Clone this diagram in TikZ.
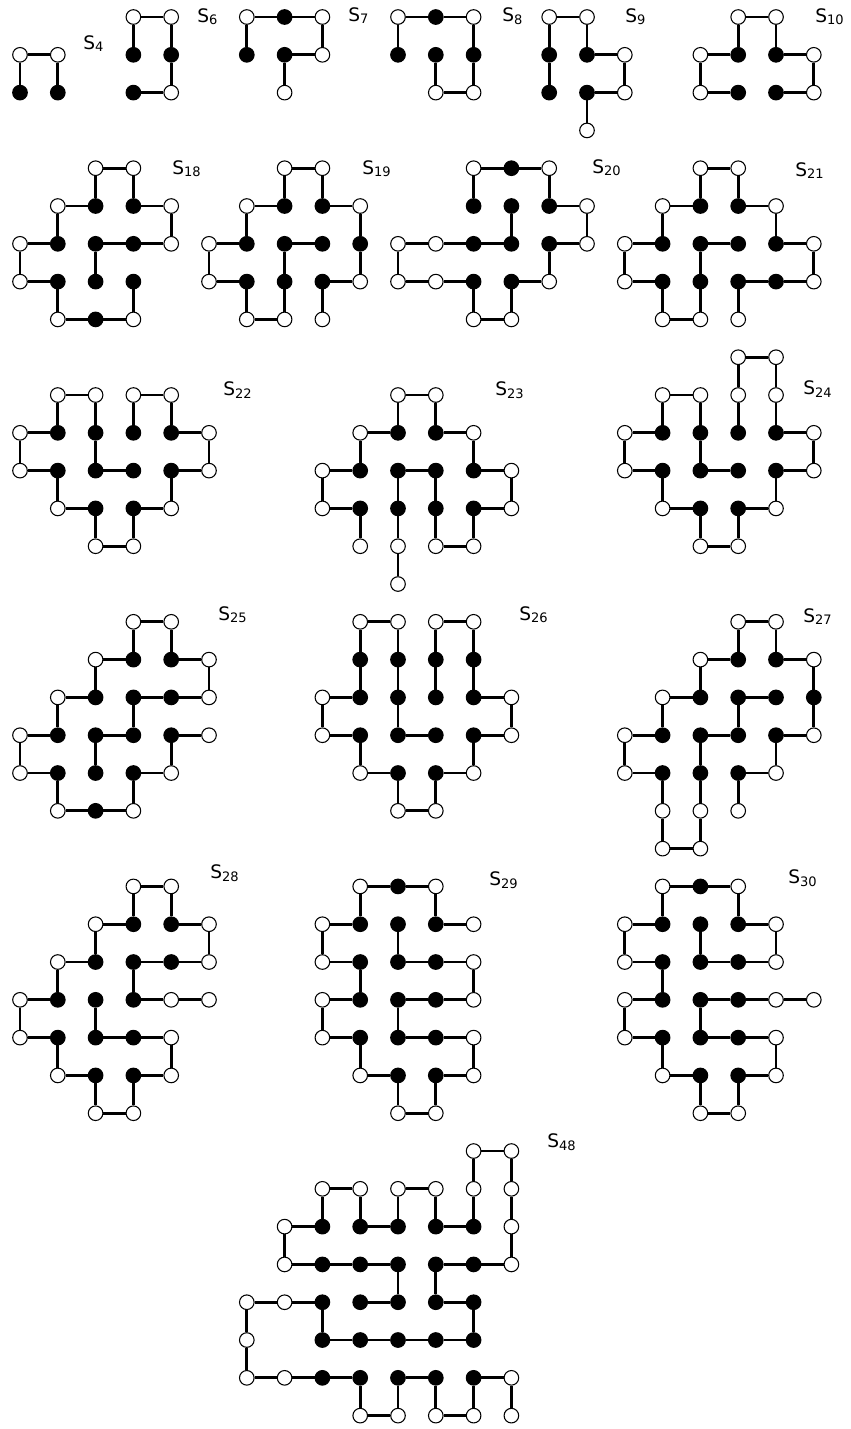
\documentclass[tikz,border=0pt]{standalone}
\usepackage{fontspec}
\setmainfont{DejaVu Sans}
\tikzset{
  wv/.style={circle,draw,fill=white,line width=0.6pt,inner sep=0pt,minimum size=0.29cm},
  bv/.style={wv,fill=black},
  link/.style={line width=1.6pt},
  lab/.style={anchor=base west,inner sep=0pt,font=\fontsize{10.5}{12}\selectfont}
}
\begin{document}
\begin{tikzpicture}[x=0.75cm,y=-0.75cm]
  \useasboundingbox (-0.529,-0.45) rectangle (21.984,37.354);
  % S_4
  \foreach \i/\j in {0/1,1/1} \node[wv] (v\i-\j) at (\i,\j) {};
  \foreach \i/\j in {0/2,1/2} \node[bv] (v\i-\j) at (\i,\j) {};
  \draw[link] (v0-2)--(v0-1)--(v1-1)--(v1-2);
  \node[lab] (s4) at (1.667,0.847) {S\textsubscript{4}};
  % S_6
  \foreach \i/\j in {3/0,4/0,4/2} \node[wv] (v\i-\j) at (\i,\j) {};
  \foreach \i/\j in {3/1,4/1,3/2} \node[bv] (v\i-\j) at (\i,\j) {};
  \draw[link] (v3-1)--(v3-0)--(v4-0)--(v4-1)--(v4-2)--(v3-2);
  \node[lab] (s6) at (4.683,0.132) {S\textsubscript{6}};
  % S_7
  \foreach \i/\j in {6/0,8/0,8/1,7/2} \node[wv] (v\i-\j) at (\i,\j) {};
  \foreach \i/\j in {7/0,6/1,7/1} \node[bv] (v\i-\j) at (\i,\j) {};
  \draw[link] (v6-1)--(v6-0)--(v7-0)--(v8-0)--(v8-1)--(v7-1)--(v7-2);
  \node[lab] (s7) at (8.677,0.106) {S\textsubscript{7}};
  % S_8
  \foreach \i/\j in {10/0,12/0,11/2,12/2} \node[wv] (v\i-\j) at (\i,\j) {};
  \foreach \i/\j in {11/0,10/1,11/1,12/1} \node[bv] (v\i-\j) at (\i,\j) {};
  \draw[link] (v10-1)--(v10-0)--(v11-0)--(v12-0)--(v12-1)--(v12-2)--(v11-2)--(v11-1);
  \node[lab] (s8) at (12.751,0.106) {S\textsubscript{8}};
  % S_9
  \foreach \i/\j in {14/0,15/0,16/1,16/2,15/3} \node[wv] (v\i-\j) at (\i,\j) {};
  \foreach \i/\j in {14/1,15/1,14/2,15/2} \node[bv] (v\i-\j) at (\i,\j) {};
  \draw[link] (v14-2)--(v14-1)--(v14-0)--(v15-0)--(v15-1)--(v16-1)--(v16-2)--(v15-2)--(v15-3);
  \node[lab] (s9) at (16.005,0.132) {S\textsubscript{9}};
  % S_10
  \foreach \i/\j in {19/0,20/0,18/1,21/1,18/2,21/2} \node[wv] (v\i-\j) at (\i,\j) {};
  \foreach \i/\j in {19/1,20/1,19/2,20/2} \node[bv] (v\i-\j) at (\i,\j) {};
  \draw[link] (v19-2)--(v18-2)--(v18-1)--(v19-1)--(v19-0)--(v20-0)--(v20-1)--(v21-1)--(v21-2)--(v20-2);
  \node[lab] (s10) at (21.032,0.132) {S\textsubscript{10}};
  % S_18
  \foreach \i/\j in {2/4,3/4,1/5,4/5,0/6,4/6,0/7,1/8,3/8} \node[wv] (v\i-\j) at (\i,\j) {};
  \foreach \i/\j in {2/5,3/5,1/6,2/6,3/6,1/7,2/7,3/7,2/8} \node[bv] (v\i-\j) at (\i,\j) {};
  \draw[link] (v2-7)--(v2-6)--(v3-6)--(v4-6)--(v4-5)--(v3-5)--(v3-4)--(v2-4)--(v2-5)--(v1-5)--(v1-6)
    --(v0-6)--(v0-7)--(v1-7)--(v1-8)--(v2-8)--(v3-8)--(v3-7);
  \node[lab] (s18) at (4.021,4.153) {S\textsubscript{18}};
  % S_19
  \foreach \i/\j in {7/4,8/4,6/5,9/5,5/6,5/7,9/7,6/8,7/8,8/8} \node[wv] (v\i-\j) at (\i,\j) {};
  \foreach \i/\j in {7/5,8/5,6/6,7/6,8/6,9/6,6/7,7/7,8/7} \node[bv] (v\i-\j) at (\i,\j) {};
  \draw[link] (v8-6)--(v7-6)--(v7-7)--(v7-8)--(v6-8)--(v6-7)--(v5-7)--(v5-6)--(v6-6)--(v6-5)--(v7-5)
    --(v7-4)--(v8-4)--(v8-5)--(v9-5)--(v9-6)--(v9-7)--(v8-7)--(v8-8);
  \node[lab] (s19) at (9.048,4.153) {S\textsubscript{19}};
  % S_20
  \foreach \i/\j in {12/4,14/4,15/5,10/6,11/6,15/6,10/7,11/7,14/7,12/8,13/8} \node[wv] (v\i-\j) at (\i,\j) {};
  \foreach \i/\j in {13/4,12/5,13/5,14/5,12/6,13/6,14/6,12/7,13/7} \node[bv] (v\i-\j) at (\i,\j) {};
  \draw[link] (v12-5)--(v12-4)--(v13-4)--(v14-4)--(v14-5)--(v15-5)--(v15-6)--(v14-6)--(v14-7)--(v13-7)
    --(v13-8)--(v12-8)--(v12-7)--(v11-7)--(v10-7)--(v10-6)--(v11-6)--(v12-6)--(v13-6)--(v13-5);
  \node[lab] (s20) at (15.132,4.127) {S\textsubscript{20}};
  % S_21
  \foreach \i/\j in {18/4,19/4,17/5,20/5,16/6,21/6,16/7,21/7,17/8,18/8,19/8} \node[wv] (v\i-\j) at (\i,\j) {};
  \foreach \i/\j in {18/5,19/5,17/6,18/6,19/6,20/6,17/7,18/7,19/7,20/7} \node[bv] (v\i-\j) at (\i,\j) {};
  \draw[link] (v19-6)--(v18-6)--(v18-7)--(v18-8)--(v17-8)--(v17-7)--(v16-7)--(v16-6)--(v17-6)--(v17-5)
    --(v18-5)--(v18-4)--(v19-4)--(v19-5)--(v20-5)--(v20-6)--(v21-6)--(v21-7)--(v20-7)--(v19-7)--(v19-8);
  \node[lab] (s21) at (20.503,4.206) {S\textsubscript{21}};
  % S_22
  \foreach \i/\j in {1/10,2/10,3/10,4/10,0/11,5/11,0/12,5/12,1/13,4/13,2/14,3/14} \node[wv] (v\i-\j) at (\i,\j) {};
  \foreach \i/\j in {1/11,2/11,3/11,4/11,1/12,2/12,3/12,4/12,2/13,3/13} \node[bv] (v\i-\j) at (\i,\j) {};
  \draw[link] (v3-12)--(v2-12)--(v2-11)--(v2-10)--(v1-10)--(v1-11)--(v0-11)--(v0-12)--(v1-12)--(v1-13)
    --(v2-13)--(v2-14)--(v3-14)--(v3-13)--(v4-13)--(v4-12)--(v5-12)--(v5-11)--(v4-11)--(v4-10)--(v3-10)--(v3-11);
  \node[lab] (s22) at (5.370,10.0) {S\textsubscript{22}};
  % S_23
  \foreach \i/\j in {10/10,11/10,9/11,12/11,8/12,13/12,8/13,13/13,9/14,10/14,11/14,12/14,10/15} \node[wv] (v\i-\j) at (\i,\j) {};
  \foreach \i/\j in {10/11,11/11,9/12,10/12,11/12,12/12,9/13,10/13,11/13,12/13} \node[bv] (v\i-\j) at (\i,\j) {};
  \draw[link] (v9-14)--(v9-13)--(v8-13)--(v8-12)--(v9-12)--(v9-11)--(v10-11)--(v10-10)--(v11-10)--(v11-11)
    --(v12-11)--(v12-12)--(v13-12)--(v13-13)--(v12-13)--(v12-14)--(v11-14)--(v11-13)--(v11-12)--(v10-12)
    --(v10-13)--(v10-14)--(v10-15);
  \node[lab] (s23) at (12.566,10.0) {S\textsubscript{23}};
  % S_24
  \foreach \i/\j in {19/9,20/9,17/10,18/10,19/10,20/10,16/11,21/11,16/12,21/12,17/13,20/13,18/14,19/14} \node[wv] (v\i-\j) at (\i,\j) {};
  \foreach \i/\j in {17/11,18/11,19/11,20/11,17/12,18/12,19/12,20/12,18/13,19/13} \node[bv] (v\i-\j) at (\i,\j) {};
  \draw[link] (v19-12)--(v18-12)--(v18-11)--(v18-10)--(v17-10)--(v17-11)--(v16-11)--(v16-12)--(v17-12)
    --(v17-13)--(v18-13)--(v18-14)--(v19-14)--(v19-13)--(v20-13)--(v20-12)--(v21-12)--(v21-11)--(v20-11)
    --(v20-10)--(v20-9)--(v19-9)--(v19-10)--(v19-11);
  \node[lab] (s24) at (20.714,9.974) {S\textsubscript{24}};
  % S_25
  \foreach \i/\j in {3/16,4/16,2/17,5/17,1/18,5/18,0/19,5/19,0/20,4/20,1/21,3/21} \node[wv] (v\i-\j) at (\i,\j) {};
  \foreach \i/\j in {3/17,4/17,2/18,3/18,4/18,1/19,2/19,3/19,4/19,1/20,2/20,3/20,2/21} \node[bv] (v\i-\j) at (\i,\j) {};
  \draw[link] (v2-20)--(v2-19)--(v3-19)--(v3-18)--(v4-18)--(v5-18)--(v5-17)--(v4-17)--(v4-16)--(v3-16)
    --(v3-17)--(v2-17)--(v2-18)--(v1-18)--(v1-19)--(v0-19)--(v0-20)--(v1-20)--(v1-21)--(v2-21)--(v3-21)
    --(v3-20)--(v4-20)--(v4-19)--(v5-19);
  \node[lab] (s25) at (5.238,15.952) {S\textsubscript{25}};
  % S_26
  \foreach \i/\j in {9/16,10/16,11/16,12/16,8/18,13/18,8/19,13/19,9/20,12/20,10/21,11/21} \node[wv] (v\i-\j) at (\i,\j) {};
  \foreach \i/\j in {9/17,10/17,11/17,12/17,9/18,10/18,11/18,12/18,9/19,10/19,11/19,12/19,10/20,11/20} \node[bv] (v\i-\j) at (\i,\j) {};
  \draw[link] (v11-19)--(v10-19)--(v10-18)--(v10-17)--(v10-16)--(v9-16)--(v9-17)--(v9-18)--(v8-18)--(v8-19)
    --(v9-19)--(v9-20)--(v10-20)--(v10-21)--(v11-21)--(v11-20)--(v12-20)--(v12-19)--(v13-19)--(v13-18)
    --(v12-18)--(v12-17)--(v12-16)--(v11-16)--(v11-17)--(v11-18);
  \node[lab] (s26) at (13.201,15.952) {S\textsubscript{26}};
  % S_27
  \foreach \i/\j in {19/16,20/16,18/17,21/17,17/18,16/19,21/19,16/20,20/20,17/21,18/21,19/21,17/22,18/22} \node[wv] (v\i-\j) at (\i,\j) {};
  \foreach \i/\j in {19/17,20/17,18/18,19/18,20/18,21/18,17/19,18/19,19/19,20/19,17/20,18/20,19/20} \node[bv] (v\i-\j) at (\i,\j) {};
  \draw[link] (v20-18)--(v19-18)--(v19-19)--(v18-19)--(v18-20)--(v18-21)--(v18-22)--(v17-22)--(v17-21)
    --(v17-20)--(v16-20)--(v16-19)--(v17-19)--(v17-18)--(v18-18)--(v18-17)--(v19-17)--(v19-16)--(v20-16)
    --(v20-17)--(v21-17)--(v21-18)--(v21-19)--(v20-19)--(v20-20)--(v19-20)--(v19-21);
  \node[lab] (s27) at (20.714,16.005) {S\textsubscript{27}};
  % S_28
  \foreach \i/\j in {3/23,4/23,2/24,5/24,1/25,5/25,0/26,4/26,5/26,0/27,4/27,1/28,4/28,2/29,3/29} \node[wv] (v\i-\j) at (\i,\j) {};
  \foreach \i/\j in {3/24,4/24,2/25,3/25,4/25,1/26,2/26,3/26,1/27,2/27,3/27,2/28,3/28} \node[bv] (v\i-\j) at (\i,\j) {};
  \draw[link] (v5-26)--(v4-26)--(v3-26)--(v3-25)--(v4-25)--(v5-25)--(v5-24)--(v4-24)--(v4-23)--(v3-23)
    --(v3-24)--(v2-24)--(v2-25)--(v1-25)--(v1-26)--(v0-26)--(v0-27)--(v1-27)--(v1-28)--(v2-28)--(v2-29)
    --(v3-29)--(v3-28)--(v4-28)--(v4-27)--(v3-27)--(v2-27)--(v2-26);
  \node[lab] (s28) at (5.026,22.778) {S\textsubscript{28}};
  % S_29
  \foreach \i/\j in {9/23,11/23,8/24,12/24,8/25,12/25,8/26,12/26,8/27,12/27,9/28,12/28,10/29,11/29} \node[wv] (v\i-\j) at (\i,\j) {};
  \foreach \i/\j in {10/23,9/24,10/24,11/24,9/25,10/25,11/25,9/26,10/26,11/26,9/27,10/27,11/27,10/28,11/28} \node[bv] (v\i-\j) at (\i,\j) {};
  \draw[link] (v12-24)--(v11-24)--(v11-23)--(v10-23)--(v9-23)--(v9-24)--(v8-24)--(v8-25)--(v9-25)--(v9-26)
    --(v8-26)--(v8-27)--(v9-27)--(v9-28)--(v10-28)--(v10-29)--(v11-29)--(v11-28)--(v12-28)--(v12-27)
    --(v11-27)--(v10-27)--(v10-26)--(v11-26)--(v12-26)--(v12-25)--(v11-25)--(v10-25)--(v10-24);
  \node[lab] (s29) at (12.407,22.963) {S\textsubscript{29}};
  % S_30
  \foreach \i/\j in {17/23,19/23,16/24,20/24,16/25,20/25,16/26,20/26,21/26,16/27,20/27,17/28,20/28,18/29,19/29} \node[wv] (v\i-\j) at (\i,\j) {};
  \foreach \i/\j in {18/23,17/24,18/24,19/24,17/25,18/25,19/25,17/26,18/26,19/26,17/27,18/27,19/27,18/28,19/28} \node[bv] (v\i-\j) at (\i,\j) {};
  \draw[link] (v18-24)--(v18-25)--(v19-25)--(v20-25)--(v20-24)--(v19-24)--(v19-23)--(v18-23)--(v17-23)
    --(v17-24)--(v16-24)--(v16-25)--(v17-25)--(v17-26)--(v16-26)--(v16-27)--(v17-27)--(v17-28)--(v18-28)
    --(v18-29)--(v19-29)--(v19-28)--(v20-28)--(v20-27)--(v19-27)--(v18-27)--(v18-26)--(v19-26)--(v20-26)--(v21-26);
  \node[lab] (s30) at (20.317,22.910) {S\textsubscript{30}};
  % S_48
  \foreach \i/\j in {12/30,13/30,8/31,9/31,10/31,11/31,12/31,13/31,7/32,13/32,7/33,13/33,6/34,7/34,6/35,
    6/36,7/36,13/36,9/37,10/37,11/37,12/37,13/37} \node[wv] (v\i-\j) at (\i,\j) {};
  \foreach \i/\j in {8/32,9/32,10/32,11/32,12/32,8/33,9/33,10/33,11/33,12/33,8/34,9/34,10/34,11/34,12/34,
    8/35,9/35,10/35,11/35,12/35,8/36,9/36,10/36,11/36,12/36} \node[bv] (v\i-\j) at (\i,\j) {};
  \draw[link] (v9-34)--(v10-34)--(v10-33)--(v9-33)--(v8-33)--(v7-33)--(v7-32)--(v8-32)--(v8-31)--(v9-31)
    --(v9-32)--(v10-32)--(v10-31)--(v11-31)--(v11-32)--(v12-32)--(v12-31)--(v12-30)--(v13-30)--(v13-31)
    --(v13-32)--(v13-33)--(v12-33)--(v11-33)--(v11-34)--(v12-34)--(v12-35)--(v11-35)--(v10-35)--(v9-35)
    --(v8-35)--(v8-34)--(v7-34)--(v6-34)--(v6-35)--(v6-36)--(v7-36)--(v8-36)--(v9-36)--(v9-37)--(v10-37)
    --(v10-36)--(v11-36)--(v11-37)--(v12-37)--(v12-36)--(v13-36)--(v13-37);
  \node[lab] (s48) at (13.942,29.894) {S\textsubscript{48}};
\end{tikzpicture}
\end{document}
